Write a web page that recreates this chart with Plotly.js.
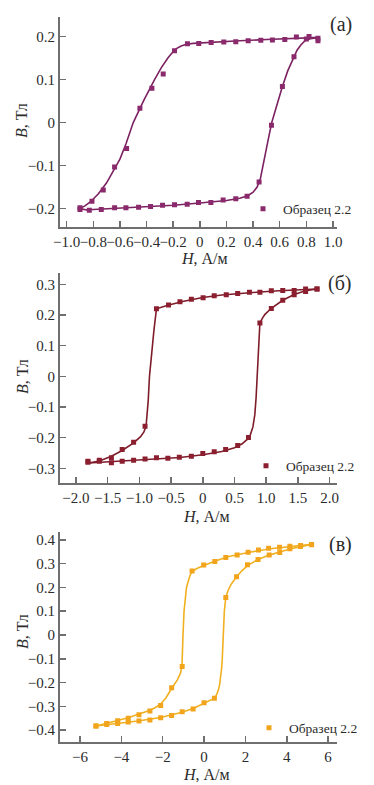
<!DOCTYPE html>
<html><head><meta charset="utf-8">
<script src="https://cdn.plot.ly/plotly-3.0.1.min.js"></script>
<style>html,body{margin:0;padding:0;background:#fff}#chart{width:374px;height:785px}</style>
</head><body><div id="chart"></div>
<script>
// ---------- Panel (а) ----------
const aH = [0.887,0.82,0.725,0.638,0.545,0.458,0.363,0.27,0.18,0.085,-0.008,-0.093,-0.19,-0.275,-0.36,-0.45,-0.55,-0.64,-0.725,-0.81,-0.90,
            -0.90,-0.83,-0.74,-0.64,-0.555,-0.46,-0.37,-0.28,-0.19,-0.095,-0.01,0.083,0.175,0.27,0.355,0.445,0.538,0.62,0.707,0.80,0.887];
const aB = [0.196,0.200,0.199,0.193,0.192,0.191,0.190,0.188,0.187,0.186,0.184,0.183,0.167,0.113,0.080,0.033,-0.060,-0.103,-0.157,-0.183,-0.198,
            -0.202,-0.204,-0.202,-0.198,-0.198,-0.197,-0.195,-0.192,-0.191,-0.190,-0.186,-0.186,-0.180,-0.177,-0.171,-0.138,-0.006,0.084,0.153,0.194,0.190];
const aDownH = [0.9,0.7,0.5,0.3,0.1,-0.05,-0.1,-0.14,-0.17,-0.2,-0.24,-0.29,-0.34,-0.42,-0.5,-0.555,-0.6,-0.65,-0.70,-0.76,-0.82,-0.86,-0.9];
const aDownB = [0.198,0.196,0.193,0.190,0.187,0.184,0.182,0.178,0.173,0.165,0.150,0.127,0.100,0.052,0.0,-0.050,-0.085,-0.113,-0.140,-0.165,-0.184,-0.193,-0.200];
const aUpH = [-0.9,-0.85,-0.8,-0.6,-0.4,-0.2,0,0.2,0.3,0.36,0.40,0.43,0.455,0.48,0.51,0.54,0.58,0.62,0.66,0.70,0.73,0.76,0.79,0.83,0.9];
const aUpB = [-0.200,-0.203,-0.202,-0.199,-0.196,-0.192,-0.187,-0.181,-0.176,-0.170,-0.162,-0.150,-0.130,-0.095,-0.045,0.0,0.045,0.084,0.120,0.150,0.168,0.181,0.190,0.195,0.198];
const aXt = [-1,-0.8,-0.6,-0.4,-0.2,0,0.2,0.4,0.6,0.8,1];
const aXl = ['−1.0','−0.8','−0.6','−0.4','−0.2','0','0.2','0.4','0.6','0.8','1.0'];
const aYt = [-0.2,-0.1,0,0.1,0.2];
const aYl = ['−0.2','−0.1','0','0.1','0.2'];

// ---------- Panel (б) ----------
const bH = [1.80,1.62,1.44,1.26,1.08,0.90,0.735,0.55,0.37,0.18,0.005,-0.18,-0.36,-0.54,-0.73,-0.91,-1.09,-1.27,-1.44,-1.63,-1.81,
            -1.81,-1.63,-1.44,-1.27,-1.09,-0.91,-0.73,-0.55,-0.37,-0.18,0,0.18,0.36,0.55,0.72,0.90,1.08,1.26,1.44,1.62,1.80];
const bB = [0.285,0.285,0.280,0.280,0.279,0.274,0.274,0.270,0.266,0.263,0.256,0.251,0.243,0.233,0.220,-0.163,-0.215,-0.239,-0.266,-0.274,-0.277,
            -0.280,-0.277,-0.282,-0.277,-0.274,-0.270,-0.266,-0.267,-0.264,-0.261,-0.252,-0.246,-0.239,-0.226,-0.200,0.174,0.221,0.248,0.266,0.277,0.285];
const bDownH = [1.8,1.5,1.2,0.9,0.6,0.3,0,-0.3,-0.55,-0.73,-0.77,-0.81,-0.84,-0.86,-0.875,-0.895,-0.93,-0.98,-1.09,-1.18,-1.27,-1.44,-1.63,-1.8];
const bDownB = [0.285,0.283,0.279,0.275,0.270,0.265,0.257,0.245,0.232,0.220,0.150,0.060,0.0,-0.080,-0.130,-0.165,-0.182,-0.197,-0.217,-0.231,-0.242,-0.261,-0.276,-0.283];
const bUpH = [-1.8,-1.44,-1.09,-0.73,-0.36,0,0.3,0.5,0.62,0.70,0.75,0.79,0.82,0.84,0.855,0.87,0.885,0.9,0.94,0.98,1.08,1.17,1.26,1.44,1.62,1.8];
const bUpB = [-0.283,-0.279,-0.275,-0.270,-0.265,-0.256,-0.245,-0.233,-0.220,-0.206,-0.190,-0.165,-0.125,-0.070,0.0,0.080,0.140,0.174,0.190,0.202,0.222,0.236,0.248,0.267,0.279,0.285];
const bXt = [-2,-1.5,-1,-0.5,0,0.5,1,1.5,2];
const bXl = ['−2.0','−1.5','−1.0','−0.5','0','0.5','1.0','1.5','2.0'];
const bYt = [-0.3,-0.2,-0.1,0,0.1,0.2,0.3];
const bYl = ['−0.3','−0.2','−0.1','0','0.1','0.2','0.3'];

// ---------- Panel (в) ----------
const cH = [5.2,4.67,4.15,3.65,3.12,2.63,2.13,1.6,1.05,0.52,-0.02,-0.58,-1.06,-1.57,-2.1,-2.62,-3.15,-3.67,-4.18,-4.71,-5.23,
            -5.23,-4.71,-4.18,-3.67,-3.15,-2.62,-2.1,-1.57,-1.06,-0.53,0,0.5,1.05,1.57,2.1,2.61,3.15,3.66,4.15,4.66,5.2];
const cB = [0.381,0.376,0.373,0.369,0.365,0.358,0.348,0.337,0.326,0.309,0.294,0.269,-0.133,-0.222,-0.297,-0.320,-0.336,-0.350,-0.361,-0.372,-0.383,
            -0.383,-0.377,-0.372,-0.366,-0.362,-0.358,-0.348,-0.339,-0.323,-0.311,-0.285,-0.266,0.158,0.245,0.295,0.318,0.336,0.347,0.363,0.372,0.380];
const cDownH = [5.2,4.2,3.2,2.2,1.2,0.5,0,-0.3,-0.6,-0.72,-0.85,-0.97,-1.02,-1.04,-1.07,-1.15,-1.3,-1.57,-1.85,-2.1,-2.35,-2.62,-3.15,-3.67,-4.18,-4.71,-5.23];
const cDownB = [0.381,0.372,0.363,0.348,0.330,0.310,0.293,0.282,0.267,0.240,0.200,0.100,0.0,-0.080,-0.133,-0.163,-0.190,-0.225,-0.265,-0.290,-0.305,-0.317,-0.334,-0.348,-0.360,-0.372,-0.383];
const cUpH = [-5.23,-4.2,-3.2,-2.1,-1.06,-0.5,0,0.3,0.5,0.6,0.68,0.75,0.8,0.85,0.88,0.93,0.98,1.05,1.15,1.3,1.57,1.85,2.1,2.61,3.15,3.66,4.15,4.66,5.2];
const cUpB = [-0.383,-0.373,-0.362,-0.347,-0.325,-0.308,-0.288,-0.276,-0.266,-0.252,-0.235,-0.210,-0.180,-0.140,-0.100,0.0,0.100,0.158,0.185,0.212,0.245,0.272,0.292,0.318,0.336,0.349,0.362,0.371,0.381];
const cXt = [-6,-4,-2,0,2,4,6];
const cXl = ['−6','−4','−2','0','2','4','6'];
const cYt = [-0.4,-0.3,-0.2,-0.1,0,0.1,0.2,0.3,0.4];
const cYl = ['−0.4','−0.3','−0.2','−0.1','0','0.1','0.2','0.3','0.4'];

const seriesName = 'Образец 2.2';
const xTitleText = '<i>H</i>, А/м';
const yTitleText = '<i>B</i>, Тл';
const panelNames = ['(а)', '(б)', '(в)'];
const colA = '#8a2a6c', colB = '#8b1f2f', colC = '#f2a51c';
const lineA = '#7c2262', lineB = '#7e1c2a', lineC = '#f0b020';

const FONT = 'Liberation Serif';
const TXT = '#2b2b2b';
const H = 785, W = 374, L = 60, R = 37;
const py = p => 1 - p / H;
const px = p => (p - L) / (W - L - R);

function lineTrace(x, y, col, xa, ya) {
  return {x, y, xaxis: xa, yaxis: ya, type: 'scatter', mode: 'lines', showlegend: false,
          line: {color: col, width: 1.6, shape: 'linear'}, hoverinfo: 'skip'};
}
function ptTrace(x, y, col, xa, ya, lg) {
  return {x, y, xaxis: xa, yaxis: ya, type: 'scatter', mode: 'markers', name: seriesName, legend: lg,
          marker: {symbol: 'square', size: 5, color: col}};
}

const data = [
  lineTrace(aDownH, aDownB, lineA, 'x', 'y'), lineTrace(aUpH, aUpB, lineA, 'x', 'y'),
  ptTrace(aH, aB, colA, 'x', 'y', 'legend'),
  lineTrace(bDownH, bDownB, lineB, 'x2', 'y2'), lineTrace(bUpH, bUpB, lineB, 'x2', 'y2'),
  ptTrace(bH, bB, colB, 'x2', 'y2', 'legend2'),
  lineTrace(cDownH, cDownB, lineC, 'x3', 'y3'), lineTrace(cUpH, cUpB, lineC, 'x3', 'y3'),
  ptTrace(cH, cB, colC, 'x3', 'y3', 'legend3')
];

const axCommon = {showline: true, linecolor: '#6f6f6f', linewidth: 2, ticks: 'inside', ticklen: 6,
  tickwidth: 1.5, tickcolor: '#6f6f6f', showgrid: false, zeroline: false, tickangle: 0,
  tickfont: {family: FONT, size: 15, color: TXT}, tickmode: 'array'};

function xax(range, tv, tt, anchor) {
  return Object.assign({}, axCommon, {range, tickvals: tv, ticktext: tt, anchor, domain: [0, 1]});
}
function yax(range, tv, tt, anchor, top, bot) {
  return Object.assign({}, axCommon, {range, tickvals: tv, ticktext: tt, anchor, domain: [py(bot), py(top)]});
}
const legFont = {family: FONT, size: 13.5, color: TXT};
function leg(xpx, ypx) {
  return {x: px(xpx), y: py(ypx), xanchor: 'left', yanchor: 'middle',
    bgcolor: 'rgba(0,0,0,0)', borderwidth: 0, font: legFont, itemwidth: 30};
}
function ann(t, xpx, ypx, size, angle) {
  return {text: t, xref: 'paper', yref: 'paper', x: px(xpx), y: py(ypx), textangle: angle || 0,
    xanchor: 'center', yanchor: 'middle', showarrow: false, font: {family: FONT, size, color: TXT}};
}

const layout = {
  width: W, height: H, margin: {l: L, r: R, t: 0, b: 0},
  font: {family: FONT},
  paper_bgcolor: '#ffffff', plot_bgcolor: '#ffffff', showlegend: true,
  xaxis: xax([-1.05, 1.03], aXt, aXl, 'y'),
  yaxis: yax([-0.242, 0.246], aYt, aYl, 'x', 16.7, 226.7),
  xaxis2: xax([-2.25, 2.115], bXt, bXl, 'y2'),
  yaxis2: yax([-0.349, 0.336], bYt, bYl, 'x2', 273.3, 483.3),
  xaxis3: xax([-6.97, 6.43], cXt, cXl, 'y3'),
  yaxis3: yax([-0.449, 0.432], cYt, cYl, 'x3', 532.3, 741.7),
  legend: leg(243, 209),
  legend2: leg(246, 466),
  legend3: leg(249, 728),
  annotations: [
    ann(panelNames[0], 341, 25, 20), ann(panelNames[1], 340, 284, 20), ann(panelNames[2], 340, 544, 20),
    ann(xTitleText, 204, 259, 16), ann(xTitleText, 206, 516, 16), ann(xTitleText, 206, 774, 16),
    ann(yTitleText, 22, 121, 16, -90), ann(yTitleText, 22, 377, 16, -90), ann(yTitleText, 22, 632, 16, -90)
  ]
};

Plotly.newPlot('chart', data, layout, {displayModeBar: false, staticPlot: true});
</script></body></html>
